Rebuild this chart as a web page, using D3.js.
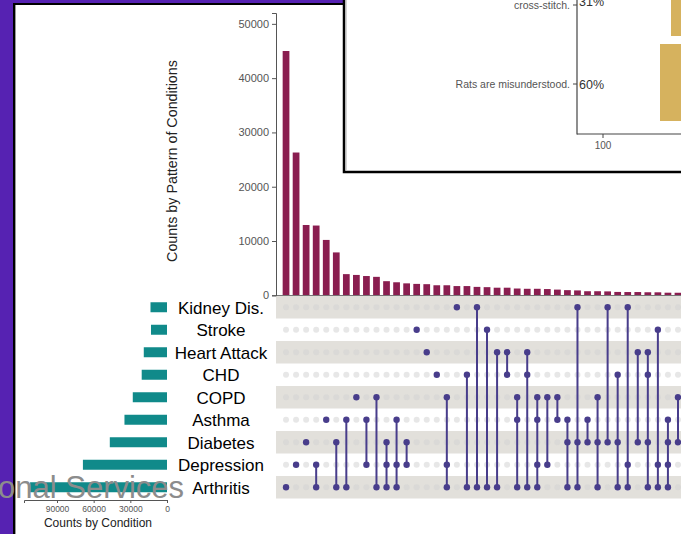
<!DOCTYPE html>
<html>
<head>
<meta charset="utf-8">
<script src="https://cdn.jsdelivr.net/npm/d3@7"></script>
<style>
  body { margin: 0; background: #fff; }
  svg { display: block; font-family: "Liberation Sans", Arial, sans-serif; }
</style>
</head>
<body>
<svg id="chart" width="681" height="534"></svg>
<script>
// sets, top to bottom
var sets = ["Kidney Dis.", "Stroke", "Heart Attack", "CHD", "COPD", "Asthma", "Diabetes", "Depression", "Arthritis"];
var setSizes = [13500, 13100, 19000, 20700, 28000, 34800, 46800, 68800, 112000];

// intersections (left to right) and their counts
var combos = [
  ["Arthritis"],
  ["Depression"],
  ["Diabetes"],
  ["Depression", "Arthritis"],
  ["Asthma"],
  ["Diabetes", "Arthritis"],
  ["Asthma", "Arthritis"],
  ["COPD"],
  ["Asthma", "Depression"],
  ["COPD", "Arthritis"],
  ["Diabetes", "Depression", "Arthritis"],
  ["Asthma", "Depression", "Arthritis"],
  ["Diabetes", "Depression"],
  ["Stroke"],
  ["Heart Attack"],
  ["CHD"],
  ["COPD", "Depression", "Arthritis"],
  ["Kidney Dis."],
  ["CHD", "Arthritis"],
  ["Kidney Dis.", "Arthritis"],
  ["Stroke", "Arthritis"],
  ["Heart Attack", "Arthritis"],
  ["Heart Attack", "CHD"],
  ["COPD", "Asthma", "Arthritis"],
  ["Heart Attack", "CHD", "Arthritis"],
  ["COPD", "Asthma", "Depression", "Arthritis"],
  ["COPD", "Depression"],
  ["COPD", "Asthma"],
  ["Asthma", "Diabetes", "Arthritis"],
  ["Kidney Dis.", "Diabetes", "Arthritis"],
  ["Asthma", "Diabetes"],
  ["COPD", "Diabetes", "Arthritis"],
  ["Kidney Dis.", "Diabetes"],
  ["CHD", "Diabetes", "Arthritis"],
  ["Kidney Dis.", "Depression", "Arthritis"],
  ["Heart Attack", "Diabetes"],
  ["Heart Attack", "CHD", "Diabetes", "Arthritis"],
  ["Stroke", "Depression", "Arthritis"],
  ["Asthma", "Diabetes", "Depression", "Arthritis"],
  ["COPD", "Diabetes"]
];
var comboCounts = [45000, 26300, 12950, 12850, 10200, 7900, 3900, 3750, 3550, 3400,
  2600, 2400, 2200, 2100, 2050, 1850, 1850, 1700, 1700, 1550,
  1500, 1400, 1400, 1250, 1200, 1200, 1150, 1050, 950, 900,
  750, 750, 720, 620, 600, 600, 560, 550, 480, 470];

var barTicks = [0, 10000, 20000, 30000, 40000, 50000];
var sizeTicks = [0, 30000, 60000, 90000];

// overlay (pasted chart in the corner)
var overlayLabels = ["cross-stitch.", "Rats are misunderstood."];
var overlayPct = ["31%", "60%"];
var overlayTicks = [100];

var svg = d3.select("#chart");

// purple slide background + white panel
svg.append("rect").attr("width", 681).attr("height", 534).attr("fill", "#5622b2");
svg.append("rect").attr("x", 14).attr("y", 4).attr("width", 700).attr("height", 600)
  .attr("fill", "#fff").attr("stroke", "#000").attr("stroke-width", 2);
svg.append("line").attr("x1", 15.5).attr("x2", 15.5).attr("y1", 5).attr("y2", 534)
  .attr("stroke", "#999").attr("stroke-width", 1);

var x = d3.scaleBand().domain(d3.range(combos.length))
  .range([281, 281 + combos.length * 10.05]).paddingInner(0.33).paddingOuter(0.165);
var rowY = d3.scaleBand().domain(sets).range([296, 296 + sets.length * 22.5]);
var yBar = d3.scaleLinear().domain([0, 52000]).range([295.3, 13]);
var xSize = d3.scaleLinear().domain([0, 117000]).range([167, 24]);

function cx(i) { return x(i) + x.bandwidth() / 2; }
function cy(s) { return rowY(s) + rowY.bandwidth() / 2; }

// matrix shading
svg.append("g").selectAll("rect")
  .data(sets.filter(function(d, i) { return i % 2 == 0; }))
  .enter().append("rect")
  .attr("x", 276).attr("width", 420)
  .attr("y", function(d) { return rowY(d); })
  .attr("height", rowY.bandwidth())
  .attr("fill", "#e2e0db");

// inactive dots
var grid = [];
combos.forEach(function(c, i) {
  sets.forEach(function(s) { if (c.indexOf(s) < 0) grid.push({i: i, s: s}); });
});
svg.append("g").selectAll("circle")
  .data(grid)
  .enter().append("circle")
  .attr("cx", function(d) { return cx(d.i); })
  .attr("cy", function(d) { return cy(d.s); })
  .attr("r", 3)
  .attr("fill", "#d4d4d4").attr("opacity", 0.55);

// connecting lines + active dots
var col = svg.append("g").selectAll("g")
  .data(combos)
  .enter().append("g");

col.append("line")
  .attr("x1", function(d, i) { return cx(i); })
  .attr("x2", function(d, i) { return cx(i); })
  .attr("y1", function(d) { return d3.min(d, cy); })
  .attr("y2", function(d) { return d3.max(d, cy); })
  .attr("stroke", "#483d8b").attr("stroke-width", 2);

col.selectAll("circle")
  .data(function(d, i) { return d.map(function(s) { return {i: i, s: s}; }); })
  .enter().append("circle")
  .attr("cx", function(d) { return cx(d.i); })
  .attr("cy", function(d) { return cy(d.s); })
  .attr("r", 3.2)
  .attr("fill", "#483d8b");

// intersection bars
svg.append("g").selectAll("rect")
  .data(comboCounts)
  .enter().append("rect")
  .attr("x", function(d, i) { return x(i); })
  .attr("width", x.bandwidth())
  .attr("y", function(d) { return yBar(d); })
  .attr("height", function(d) { return yBar(0) - yBar(d); })
  .attr("fill", "#8a1e50");

svg.append("line").attr("x1", 276).attr("x2", 681).attr("y1", 295.5).attr("y2", 295.5)
  .attr("stroke", "#777").attr("stroke-width", 1);

var yAxis = svg.append("g")
  .attr("transform", "translate(276,0)")
  .call(d3.axisLeft(yBar).tickValues(barTicks).tickSize(4).tickFormat(d3.format("d")));
yAxis.select(".domain").attr("stroke", "#555");
yAxis.selectAll(".tick line").attr("stroke", "#555");
yAxis.selectAll("text").attr("fill", "#555").attr("font-size", 11)
  .attr("font-family", "Liberation Sans, Arial, sans-serif");

svg.append("text")
  .attr("transform", "translate(177,161) rotate(-90)")
  .attr("text-anchor", "middle")
  .attr("font-size", 14.3).attr("fill", "#222")
  .text("Counts by Pattern of Conditions");

// set size bars
svg.append("g").selectAll("rect")
  .data(setSizes)
  .enter().append("rect")
  .attr("x", function(d) { return xSize(d); })
  .attr("width", function(d) { return xSize(0) - xSize(d); })
  .attr("y", function(d, i) { return cy(sets[i]) - 5; })
  .attr("height", 10)
  .attr("fill", "#108a8a");

svg.append("g").selectAll("text")
  .data(sets)
  .enter().append("text")
  .attr("x", 221)
  .attr("y", function(d) { return cy(d) + 6.5; })
  .attr("text-anchor", "middle")
  .attr("font-size", 17).attr("fill", "#000")
  .text(function(d) { return d; });

var xAxis = svg.append("g")
  .attr("transform", "translate(0,500)")
  .call(d3.axisBottom(xSize).tickValues(sizeTicks).tickSize(3).tickFormat(d3.format("d")));
xAxis.select(".domain").attr("stroke", "#555");
xAxis.selectAll(".tick line").attr("stroke", "#555");
xAxis.selectAll("text").attr("fill", "#555").attr("font-size", 8.5)
  .attr("font-family", "Liberation Sans, Arial, sans-serif");

svg.append("text")
  .attr("x", 98).attr("y", 527)
  .attr("text-anchor", "middle")
  .attr("font-size", 12).attr("fill", "#222")
  .text("Counts by Condition");

// watermark text over the left bars
svg.append("text")
  .attr("x", -2).attr("y", 498)
  .attr("font-size", 31).attr("fill", "#8c8c8c")
  .text("onal Services");

// pasted overlay chart, top right
var ov = svg.append("g");
ov.append("rect").attr("x", 344).attr("y", -10).attr("width", 350).attr("height", 182)
  .attr("fill", "#fff").attr("stroke", "#000").attr("stroke-width", 2.5);
ov.append("line").attr("x1", 346).attr("x2", 346).attr("y1", 0).attr("y2", 170)
  .attr("stroke", "#aaa").attr("stroke-width", 1);

var ovX = d3.scaleLinear().domain([100, 130]).range([603, 680]);

ov.append("rect").attr("x", 671).attr("y", -10).attr("width", 20).attr("height", 46).attr("fill", "#d6b25e");
ov.append("rect").attr("x", 660).attr("y", 44).attr("width", 30).attr("height", 77).attr("fill", "#d6b25e");

ov.append("line").attr("x1", 577).attr("x2", 577).attr("y1", 0).attr("y2", 134.5)
  .attr("stroke", "#444").attr("stroke-width", 1.2);
ov.append("line").attr("x1", 577).attr("x2", 681).attr("y1", 134).attr("y2", 134)
  .attr("stroke", "#444").attr("stroke-width", 1.2);

var ovY = [5, 84];
ov.selectAll(".olab")
  .data(overlayLabels)
  .enter().append("text")
  .attr("x", 570).attr("y", function(d, i) { return ovY[i] + 4; })
  .attr("text-anchor", "end")
  .attr("font-size", 10.5).attr("fill", "#555")
  .text(function(d) { return d; });
ov.selectAll(".otick")
  .data(ovY)
  .enter().append("line")
  .attr("x1", 573).attr("x2", 577)
  .attr("y1", function(d) { return d; }).attr("y2", function(d) { return d; })
  .attr("stroke", "#444");
ov.selectAll(".opct")
  .data(overlayPct)
  .enter().append("text")
  .attr("x", 579).attr("y", function(d, i) { return i == 0 ? 6 : 89; })
  .attr("font-size", 12.5).attr("fill", "#333")
  .text(function(d) { return d; });

ov.selectAll(".xt")
  .data(overlayTicks)
  .enter().append("g")
  .each(function(d) {
    var g = d3.select(this);
    g.append("line").attr("x1", ovX(d)).attr("x2", ovX(d)).attr("y1", 134).attr("y2", 138).attr("stroke", "#444");
    g.append("text").attr("x", ovX(d)).attr("y", 148.5).attr("text-anchor", "middle")
      .attr("font-size", 10).attr("fill", "#555").text(d);
  });
</script>
</body>
</html>
